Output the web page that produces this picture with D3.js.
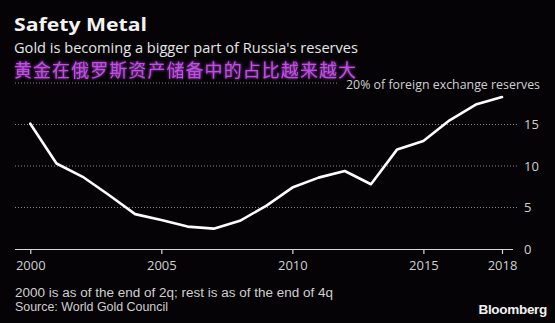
<!DOCTYPE html>
<html>
<head>
<meta charset="utf-8">
<script src="https://cdn.jsdelivr.net/npm/d3@7"></script>
<style>
  html, body { margin: 0; padding: 0; background: #050306; }
  svg { display: block; }
</style>
</head>
<body>
<svg id="chart" width="555" height="323"></svg>
<script>
// Gold share of Russia's foreign exchange reserves, %
const years = [2000, 2001, 2002, 2003, 2004, 2005, 2006, 2007, 2008, 2009,
               2010, 2011, 2012, 2013, 2014, 2015, 2016, 2017, 2018];
const goldShare = [15.1, 10.3, 8.7, 6.5, 4.2, 3.5, 2.7, 2.45, 3.4, 5.2,
                   7.4, 8.6, 9.4, 7.8, 12.0, 13.0, 15.5, 17.4, 18.3];
const xTicks = [2000, 2005, 2010, 2015, 2018];
const yTicks = [0, 5, 10, 15];

const title = "Safety Metal";
const subtitle = "Gold is becoming a bigger part of Russia's reserves";
const subtitleZh = "黄金在俄罗斯资产储备中的占比越来越大";
const unitLabel = "20% of foreign exchange reserves";
const notes = ["2000 is as of the end of 2q; rest is as of the end of 4q",
               "Source: World Gold Council"];
const noteWidths = [318, 153];

const svg = d3.select("#chart");
const font = "'Open Sans', 'DejaVu Sans', sans-serif";

svg.append("rect").attr("width", 555).attr("height", 323).attr("fill", "#050306");

const x = d3.scaleLinear().domain([2000, 2018]).range([30.3, 502]);
const y = d3.scaleLinear().domain([0, 20]).range([249, 83]);

// Headings
svg.append("text").attr("x", 14).attr("y", 31)
  .attr("font-family", font).attr("font-weight", 700).attr("font-size", 18.5)
  .attr("fill", "#f2f2f2").attr("textLength", 133).attr("lengthAdjust", "spacingAndGlyphs")
  .text(title);
svg.append("text").attr("x", 14).attr("y", 53)
  .attr("font-family", font).attr("font-size", 15)
  .attr("fill", "#e6e6e6").attr("textLength", 344).attr("lengthAdjust", "spacingAndGlyphs")
  .text(subtitle);

const glow = svg.append("defs").append("filter").attr("id", "glow")
  .attr("x", "-5%").attr("y", "-30%").attr("width", "110%").attr("height", "160%");
glow.append("feGaussianBlur").attr("stdDeviation", 1.6).attr("result", "b");
const merge = glow.append("feMerge");
merge.append("feMergeNode").attr("in", "b");
merge.append("feMergeNode").attr("in", "SourceGraphic");

svg.append("text").attr("x", 14).attr("y", 77)
  .attr("font-family", "'Noto Sans CJK SC', sans-serif").attr("font-size", 18)
  .attr("fill", "#c04ee6").attr("filter", "url(#glow)")
  .attr("textLength", 342).attr("lengthAdjust", "spacing")
  .text(subtitleZh);

// Dotted gridlines (the 20% line stops short of its unit label)
const grid = svg.append("g");
yTicks.filter(d => d > 0).forEach(d => {
  grid.append("line").attr("x1", 15).attr("x2", 518)
    .attr("y1", y(d)).attr("y2", y(d))
    .attr("stroke", "#8a8a8a").attr("stroke-width", 1).attr("stroke-dasharray", "1,2");
});
grid.append("line").attr("x1", 15).attr("x2", 337)
  .attr("y1", y(20)).attr("y2", y(20))
  .attr("stroke", "#8a8a8a").attr("stroke-width", 1).attr("stroke-dasharray", "1,2");

svg.append("text").attr("x", 540).attr("y", 89).attr("text-anchor", "end")
  .attr("font-family", font).attr("font-size", 12.5).attr("fill", "#d0d0d0")
  .attr("textLength", 194).attr("lengthAdjust", "spacingAndGlyphs")
  .text(unitLabel);

// Right-hand value axis labels
const yAxis = d3.axisRight(y).tickValues(yTicks).tickSize(0).tickPadding(0);
const gy = svg.append("g").attr("transform", "translate(524,0)").call(yAxis);
gy.select(".domain").remove();
gy.selectAll("text").attr("font-family", font).attr("font-size", 13).attr("fill", "#d0d0d0");

// Bottom year axis
const xAxis = d3.axisBottom(x).tickValues(xTicks).tickFormat(d3.format("d"))
  .tickSize(5).tickSizeOuter(0).tickPadding(7);
const gx = svg.append("g").attr("transform", `translate(0,${y(0)})`).call(xAxis);
gx.select(".domain").attr("d", "M15,0.5H513").attr("stroke", "#d8d8d8").attr("stroke-width", 1.2);
gx.selectAll(".tick line").attr("stroke", "#d8d8d8").attr("stroke-width", 1.2);
gx.selectAll("text").attr("font-family", font).attr("font-size", 13).attr("fill", "#d0d0d0");

// Gold share line
const line = d3.line().x((d, i) => x(years[i])).y(d => y(d));
svg.append("path").datum(goldShare)
  .attr("d", line).attr("fill", "none")
  .attr("stroke", "#ffffff").attr("stroke-width", 2.6)
  .attr("stroke-linejoin", "round").attr("stroke-linecap", "round");

// Footnotes
notes.forEach((t, i) => {
  svg.append("text").attr("x", 15).attr("y", 297 + i * 14)
    .attr("font-family", "'Liberation Sans', Arial, sans-serif").attr("font-size", 12)
    .attr("fill", "#d0d0d0")
    .attr("textLength", noteWidths[i]).attr("lengthAdjust", "spacingAndGlyphs")
    .text(t);
});

svg.append("text").attr("x", 547).attr("y", 314).attr("text-anchor", "end")
  .attr("font-family", "'Liberation Sans', Arial, sans-serif").attr("font-weight", 700)
  .attr("font-size", 13.5).attr("fill", "#f0f0f0").attr("letter-spacing", -0.3)
  .text("Bloomberg");
</script>
</body>
</html>
